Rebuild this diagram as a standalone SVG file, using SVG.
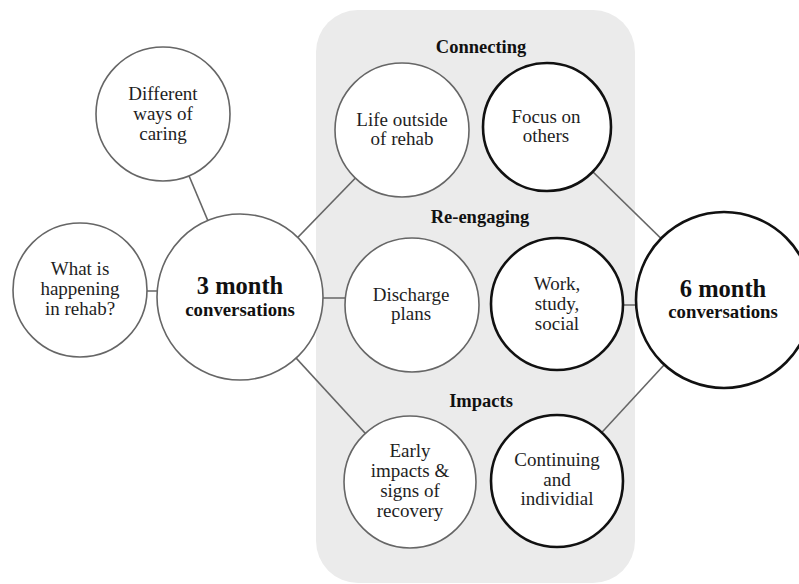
<svg xmlns="http://www.w3.org/2000/svg" width="799" height="584" viewBox="0 0 799 584">
<style>
text{font-family:"Liberation Serif","DejaVu Serif",serif}
.t{font-size:19px;fill:#1e1e1e;text-anchor:middle}
.h{font-size:18.5px;font-weight:bold;fill:#111;text-anchor:middle}
.big{font-weight:bold;fill:#111;text-anchor:middle}
.cg{fill:#fff;stroke:#666;stroke-width:1.6}
.ck{fill:#fff;stroke:#111;stroke-width:2.6}
.ln{stroke:#666;stroke-width:1.6;fill:none}
</style>
<rect width="799" height="584" fill="#fff"/>
<rect id="panel" x="316" y="10" width="319" height="573" rx="42" fill="#ebebeb"/>
<g id="connectors">
<line class="ln" x1="163" y1="114" x2="240" y2="297"/>
<line class="ln" x1="80" y1="291" x2="240" y2="291"/>
<line class="ln" x1="240" y1="297" x2="402" y2="130"/>
<line class="ln" x1="240" y1="298" x2="412" y2="298"/>
<line class="ln" x1="240" y1="297" x2="410" y2="482"/>
<line class="ln" x1="547" y1="127" x2="724" y2="300"/>
<line class="ln" x1="557" y1="305" x2="724" y2="305"/>
<line class="ln" x1="557" y1="481" x2="724" y2="300"/>
</g>
<text class="h" x="481" y="53">Connecting</text>
<text class="h" x="480" y="223">Re-engaging</text>
<text class="h" x="481" y="407">Impacts</text>
<g id="n-caring">
<circle class="cg" cx="163" cy="114" r="67"/>
<text class="t" x="163" y="100">Different</text>
<text class="t" x="163" y="120">ways of</text>
<text class="t" x="163" y="140">caring</text>
</g>
<g id="n-happening">
<circle class="cg" cx="80" cy="290" r="67"/>
<text class="t" x="80" y="275">What is</text>
<text class="t" x="80" y="295">happening</text>
<text class="t" x="80" y="315">in rehab?</text>
</g>
<g id="n-3month">
<circle class="cg" cx="240" cy="297" r="83"/>
<text class="big" x="240" y="294" font-size="24.5">3 month</text>
<text class="big" x="240" y="316" font-size="18.8">conversations</text>
</g>
<g id="n-life">
<circle class="cg" cx="402" cy="130" r="67"/>
<text class="t" x="402" y="126">Life outside</text>
<text class="t" x="402" y="145">of rehab</text>
</g>
<g id="n-focus">
<circle class="ck" cx="547" cy="127" r="64"/>
<text class="t" x="546" y="123">Focus on</text>
<text class="t" x="546" y="142">others</text>
</g>
<g id="n-discharge">
<circle class="cg" cx="412" cy="305" r="67"/>
<text class="t" x="411" y="301">Discharge</text>
<text class="t" x="411" y="320">plans</text>
</g>
<g id="n-work">
<circle class="ck" cx="557" cy="304" r="66"/>
<text class="t" x="557" y="290">Work,</text>
<text class="t" x="557" y="310">study,</text>
<text class="t" x="557" y="330">social</text>
</g>
<g id="n-6month">
<circle class="ck" cx="724" cy="300" r="88"/>
<text class="big" x="723" y="297" font-size="24.5">6 month</text>
<text class="big" x="723" y="318" font-size="18.8">conversations</text>
</g>
<g id="n-early">
<circle class="cg" cx="410" cy="482" r="66"/>
<text class="t" x="410" y="457">Early</text>
<text class="t" x="410" y="477">impacts &amp;</text>
<text class="t" x="410" y="497">signs of</text>
<text class="t" x="410" y="517">recovery</text>
</g>
<g id="n-continuing">
<circle class="ck" cx="557" cy="481" r="66"/>
<text class="t" x="557" y="466">Continuing</text>
<text class="t" x="557" y="486">and</text>
<text class="t" x="557" y="505">individial</text>
</g>
</svg>
